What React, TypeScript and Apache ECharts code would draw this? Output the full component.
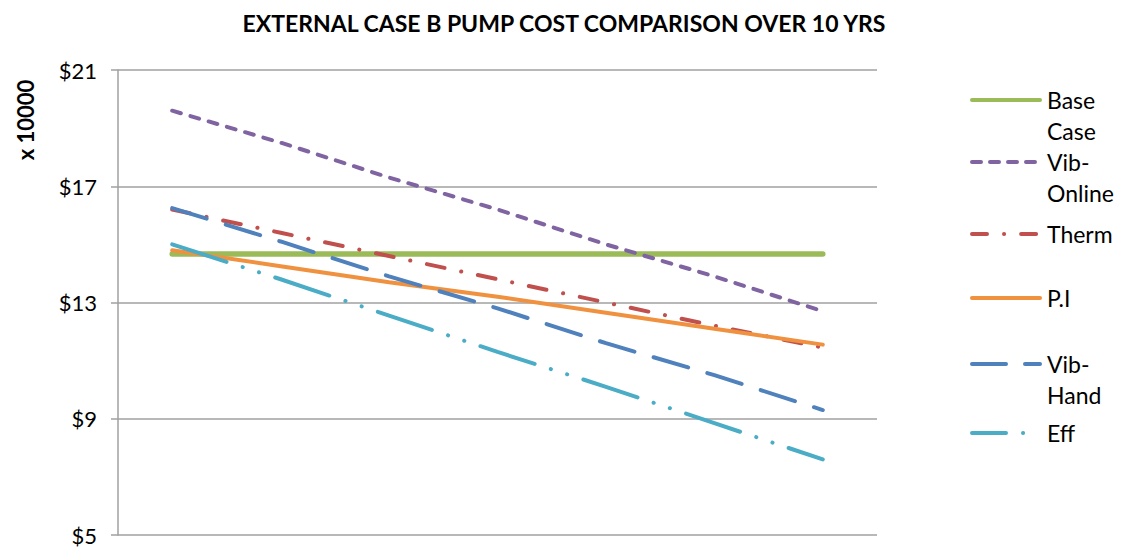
import React, { useEffect, useRef } from "react";
import * as echarts from "echarts";

const categories = ["1", "2", "3", "4", "5", "6", "7"];
const baseCase = [14.67, 14.67, 14.67, 14.67, 14.67, 14.67, 14.67];
const vibOnline = [19.6, 18.5, 17.3, 16.2, 15.0, 13.9, 12.7];
const therm = [16.2, 15.4, 14.6, 13.8, 13.0, 12.2, 11.45];
const pi = [14.8, 14.25, 13.7, 13.2, 12.65, 12.1, 11.55];
const vibHand = [16.25, 15.1, 13.9, 12.8, 11.6, 10.5, 9.3];
const eff = [15.0, 13.8, 12.55, 11.3, 10.1, 8.85, 7.6];
const yTicks = [5, 9, 13, 17, 21];

const FONT = "Lato, 'Open Sans', sans-serif";

const seriesDefs = [
  { name: "Base Case", label: "Base\nCase", data: baseCase, color: "#9BBB59", width: 5.5, dash: "solid" as any, legendDash: null, top: 100 },
  { name: "Vib-Online", label: "Vib-\nOnline", data: vibOnline, color: "#8064A2", width: 4, dash: [9, 10], legendDash: [9, 9], top: 162 },
  { name: "Therm", label: "Therm", data: therm, color: "#C0504D", width: 4, dash: [18, 17, 0.1, 17], legendDash: [15, 17, 0.1, 17], top: 234 },
  { name: "P.I", label: "P.I", data: pi, color: "#F0913F", width: 4, dash: "solid" as any, legendDash: null, top: 298 },
  { name: "Vib-Hand", label: "Vib-\nHand", data: vibHand, color: "#4F81BD", width: 4, dash: [36, 20], legendDash: [34, 19], top: 364 },
  { name: "Eff", label: "Eff", data: eff, color: "#4BACC6", width: 4, dash: [57, 17, 0.1, 17, 0.1, 17], legendDash: [34, 17, 0.1, 40], top: 433 },
];

export default function App() {
  const ref = useRef<HTMLDivElement>(null);
  useEffect(() => {
    document.body.style.margin = "0";
    const chart = echarts.init(ref.current!, undefined, { renderer: "svg" });
    const legendGraphics: any[] = [];
    seriesDefs.forEach((s) => {
      legendGraphics.push({
        type: "line",
        shape: { x1: 972, y1: s.top, x2: 1040, y2: s.top },
        style: {
          stroke: s.color,
          lineWidth: 4,
          lineDash: s.legendDash,
          lineCap: "round",
        },
      });
      legendGraphics.push({
        type: "text",
        x: 1047,
        y: s.top - 16,
        style: {
          text: s.label,
          font: `23px ${FONT}`,
          fill: "#000",
          lineHeight: 31,
          textVerticalAlign: "top",
        },
      });
    });
    chart.setOption({
      animation: false,
      title: {
        text: "EXTERNAL CASE B PUMP COST COMPARISON OVER 10 YRS",
        left: 559,
        textAlign: "center",
        top: 6,
        textStyle: { fontFamily: FONT, fontSize: 23, fontWeight: "bold", color: "#000" },
      },
      grid: { left: 118, right: 246, top: 70, bottom: 15 },
      xAxis: {
        type: "category",
        data: categories,
        boundaryGap: true,
        axisLine: { show: false },
        axisTick: { show: false },
        axisLabel: { show: false },
      },
      yAxis: {
        type: "value",
        min: 5,
        max: 21,
        interval: 4,
        axisLine: { show: true, lineStyle: { color: "#A0A0A0", width: 1.5 } },
        axisTick: { show: true, length: 7, lineStyle: { color: "#A0A0A0", width: 1.5 } },
        splitLine: { lineStyle: { color: "#A0A0A0", width: 1.5 } },
        axisLabel: {
          formatter: (v: number) => (yTicks.includes(v) ? "$" + v : ""),
          fontFamily: FONT,
          fontSize: 22,
          color: "#000",
          margin: 21,
        },
      },
      graphic: [
        {
          type: "text",
          x: 25,
          y: 120,
          rotation: Math.PI / 2,
          style: {
            text: "x 10000",
            font: `bold 22px ${FONT}`,
            fill: "#000",
            textAlign: "center",
            textVerticalAlign: "middle",
          },
        },
        ...legendGraphics,
      ],
      series: seriesDefs.map((s) => ({
        name: s.name,
        type: "line",
        data: s.data,
        showSymbol: false,
        symbol: "none",
        z: s.name === "Base Case" ? 1 : 2,
        lineStyle: { color: s.color, width: s.width, type: s.dash, cap: "round" },
        itemStyle: { color: s.color },
      })),
    });
    return () => chart.dispose();
  }, []);
  return <div ref={ref} style={{ width: 1123, height: 550 }} />;
}
